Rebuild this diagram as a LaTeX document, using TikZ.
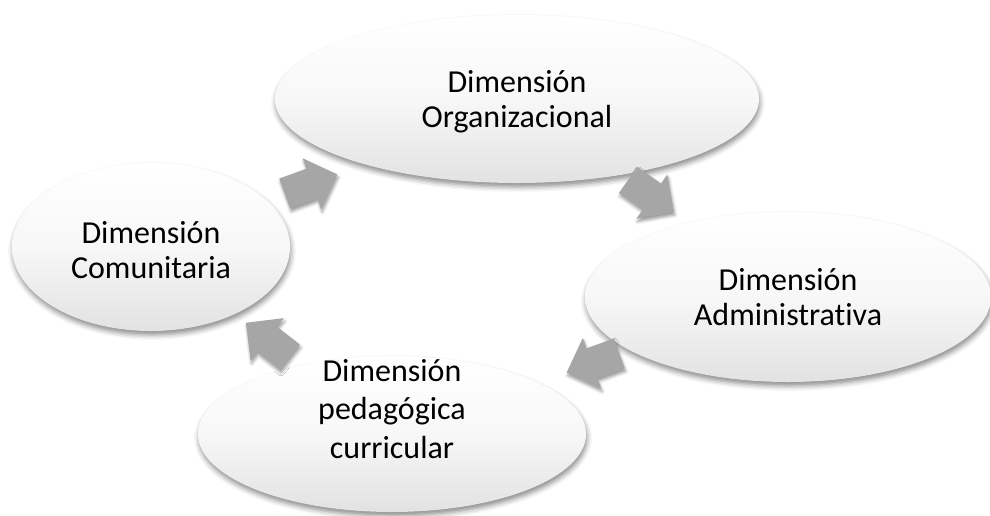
\documentclass[tikz,border=0pt]{standalone}
\usepackage{fontspec}
\setmainfont{Carlito}[Ligatures={NoCommon}]
\usetikzlibrary{shapes.geometric,shadows.blur}
\definecolor{arrowgray}{HTML}{A6A6A6}
\definecolor{ellbot}{HTML}{E2E2E2}
\tikzset{
  dimtext/.style={align=center, font=\fontsize{32}{35}\selectfont, text=black},
  dimell/.style={ellipse, inner sep=0pt, top color=white, bottom color=ellbot,
    middle color=white!97!black,
    blur shadow={shadow xshift=1pt, shadow yshift=-4pt, shadow blur radius=5pt, shadow opacity=45}},
  cycarr/.pic={
    \fill[arrowgray, blur shadow={shadow xshift=1pt, shadow yshift=-3pt, shadow blur radius=3pt, shadow opacity=40}]
      (-28,-16) -- (1,-16) -- (1,-27) -- (28,0) -- (1,27) -- (1,16) -- (-28,16) -- cycle;
    \coordinate (-c) at (0,0);
  }
}
\begin{document}
\begin{tikzpicture}[x=1pt,y=-1pt]
\useasboundingbox (0,0) rectangle (990,515);
% ellipses
\node[dimell, minimum width=278pt, minimum height=168pt] (com) at (151,247) {};
\node[dimtext] (comtxt) at (151,250) {Dimensión\\Comunitaria};
\node[dimell, minimum width=484pt, minimum height=168pt] (org) at (517,99) {};
\node[dimtext] (orgtxt) at (517,102) {Dimensión\\Organizacional};
\node[dimell, minimum width=406pt, minimum height=170pt] (adm) at (788,297) {};
\node[dimtext] (admtxt) at (788,297) {Dimensión\\Administrativa};
\node[dimell, minimum width=388pt, minimum height=156pt] (ped) at (392,434) {};
\node[dimtext, font=\fontsize{32}{38.5}\selectfont] (pedtxt) at (392,409) {Dimensión\\pedagógica\\curricular};
% cycle arrows
\pic[rotate=20] (a1) at (311,184) {cycarr};
\pic[rotate=-35] (a2) at (651,196) {cycarr};
\pic[rotate=-160] (a3) at (593,363) {cycarr};
\pic[rotate=142] (a4) at (268,340) {cycarr};
\end{tikzpicture}
\end{document}
